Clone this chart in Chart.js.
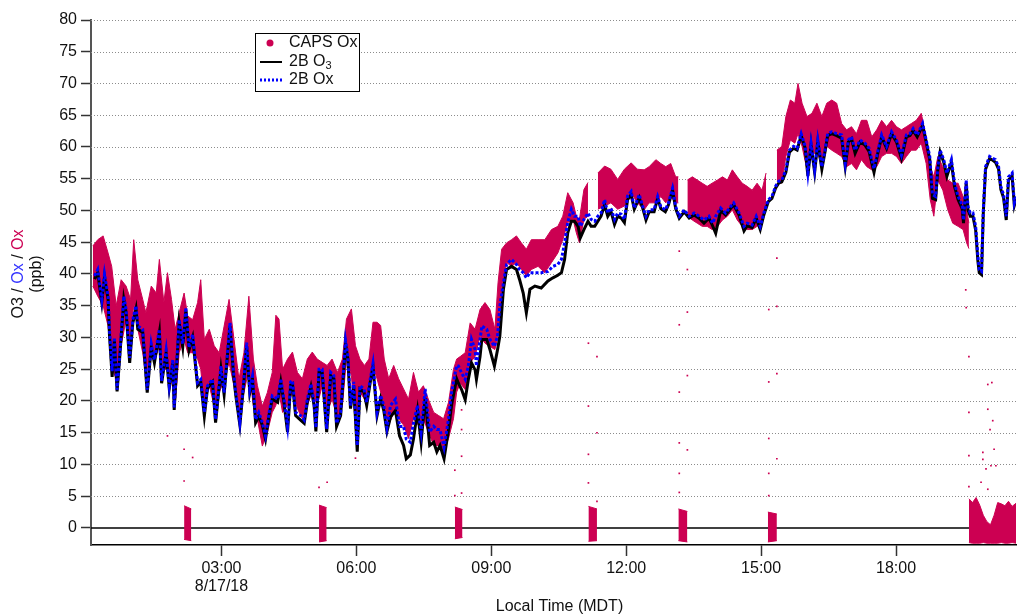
<!DOCTYPE html>
<html>
<head>
<meta charset="utf-8">
<script src="https://cdn.jsdelivr.net/npm/chart.js@4.4.1/dist/chart.umd.min.js"></script>
<style>
  body { margin: 0; background: #fff; }
  canvas { display: block; }
</style>
</head>
<body>
<canvas id="chart" width="1020" height="614"></canvas>
<script>
// time is in decimal hours of 8/17/18 (local, MDT)
const hourTicks = [3, 6, 9, 12, 15, 18];
const yTicks = [0, 5, 10, 15, 20, 25, 30, 35, 40, 45, 50, 55, 60, 65, 70, 75, 80];

// 2B monitor, O3 and Ox
const lineT = [
  0.18, 0.25, 0.34, 0.40, 0.48, 0.51, 0.57, 0.62, 0.68, 0.73, 0.83, 0.88, 0.96, 1.03, 1.10, 1.14, 1.25, 1.35, 1.44, 1.51,
  1.62, 1.67, 1.77, 1.84, 1.92, 1.95, 2.06, 2.14, 2.21, 2.28, 2.36, 2.47, 2.54, 2.62, 2.69, 2.80, 2.87, 2.99, 3.06, 3.19,
  3.27, 3.32, 3.41, 3.50, 3.56, 3.63, 3.69, 3.76, 3.83, 3.91, 3.98, 4.06, 4.13,
  4.25, 4.32, 4.39, 4.47, 4.54, 4.58, 4.65, 4.76, 4.84, 4.91, 4.99, 5.06, 5.10, 5.17, 5.24, 5.34, 5.43, 5.50, 5.56, 5.65,
  5.76, 5.81, 5.87, 5.94, 6.02, 6.08, 6.17, 6.23, 6.31, 6.37, 6.46, 6.54, 6.61, 6.68, 6.76, 6.87, 6.96, 7.05, 7.11, 7.20,
  7.27, 7.36, 7.44, 7.53, 7.63, 7.72, 7.79, 7.86, 7.95, 8.05, 8.12, 8.23,
  8.27, 8.34, 8.42, 8.49, 8.56, 8.64, 8.67, 8.75, 8.79, 8.90, 8.97, 9.07, 9.14, 9.19, 9.27, 9.34, 9.45, 9.56, 9.63, 9.71,
  9.78, 9.86, 9.97, 10.11, 10.26, 10.37, 10.48, 10.56, 10.63, 10.70, 10.78, 10.85, 10.93, 10.98, 11.06, 11.15, 11.22, 11.30, 11.37, 11.44,
  11.52, 11.59, 11.66, 11.74, 11.81, 11.89, 11.96, 12.03, 12.11, 12.18, 12.29,
  12.37, 12.44, 12.51, 12.62, 12.70, 12.77, 12.87, 12.94, 13.03, 13.10, 13.18, 13.29, 13.40, 13.51, 13.62, 13.73, 13.84, 13.92, 13.99, 14.10,
  14.21, 14.32, 14.39, 14.51, 14.62, 14.69, 14.80, 14.89, 14.98, 15.06, 15.16, 15.24, 15.32, 15.39, 15.46, 15.55, 15.63, 15.72, 15.80, 15.89,
  15.98, 16.04, 16.11, 16.19, 16.26, 16.35, 16.42, 16.48,
  16.57, 16.68, 16.79, 16.87, 16.94, 17.01, 17.09, 17.20, 17.31, 17.40, 17.51, 17.60, 17.68, 17.79, 17.90, 18.01, 18.12, 18.23, 18.31, 18.38,
  18.47, 18.59, 18.67, 18.75, 18.81, 18.88, 18.93, 18.98, 19.06, 19.13, 19.23, 19.30, 19.38, 19.47, 19.50, 19.56, 19.60, 19.65, 19.71, 19.77,
  19.82, 19.85, 19.90, 19.94, 19.99, 20.08, 20.15, 20.21, 20.28, 20.33, 20.39, 20.45, 20.50, 20.58, 20.63, 20.67
];
const o3_2B = [
  39.2, 40.2, 35.5, 39.5, 36.0, 30.5, 23.8, 29.5, 21.5, 26.0, 36.0, 34.0, 26.0, 32.3, 34.5, 31.3, 30.8, 21.3, 28.5, 26.0,
  30.8, 22.8, 27.5, 22.0, 26.0, 18.6, 32.3, 28.5, 34.2, 28.0, 30.0, 22.4, 23.0, 17.6, 22.0, 23.0, 16.6, 25.0, 21.0, 31.8,
  24.0, 20.8, 16.2, 23.0, 28.7, 21.3, 23.4, 16.6, 17.6, 16.2, 14.0, 17.8, 20.3,
  19.8, 23.0, 19.8, 15.1, 22.5, 22.7, 17.7, 17.0, 16.5, 19.8, 22.2, 19.3, 15.2, 24.5, 24.5, 15.1, 24.0, 23.5, 16.0, 17.7,
  29.0, 26.7, 18.8, 22.5, 12.0, 21.9, 21.4, 19.3, 23.0, 25.4, 17.7, 20.4, 18.5, 15.2, 17.5, 18.5, 14.5, 13.0, 10.9, 11.5,
  14.0, 18.5, 13.5, 20.5, 13.0, 13.5, 12.0, 13.0, 10.9, 15.5, 19.5, 23.5,
  22.8, 21.8, 20.2, 23.4, 26.0, 24.9, 23.4, 27.0, 29.7, 29.7, 28.1, 25.5, 28.1, 30.2, 37.6, 40.7, 41.2, 40.7, 39.1, 37.0,
  33.9, 37.6, 38.1, 37.8, 38.9, 39.4, 39.8, 40.2, 42.3, 46.5, 48.3, 48.3, 47.5, 45.7, 47.0, 48.3, 47.5, 47.5, 48.3, 49.1,
  50.9, 49.1, 49.9, 47.8, 49.1, 48.8, 48.1, 51.7, 52.5, 50.2, 52.0,
  50.3, 48.5, 49.8, 49.8, 51.9, 50.3, 49.8, 50.9, 53.2, 50.3, 48.8, 49.8, 48.8, 49.3, 48.8, 48.0, 48.8, 47.6, 46.4, 50.0,
  49.3, 50.3, 50.9, 49.3, 46.8, 47.6, 47.3, 48.8, 47.0, 49.3, 51.4, 51.9, 53.5, 54.3, 54.5, 56.0, 59.2, 59.8, 59.5, 61.8,
  59.8, 55.4, 60.3, 56.0, 60.8, 56.5, 59.2, 61.8,
  62.1, 61.8, 61.4, 56.9, 60.8, 61.3, 59.0, 60.8, 60.3, 59.3, 56.0, 59.2, 61.6, 59.8, 62.1, 60.8, 58.2, 61.6, 61.8, 62.6,
  61.6, 63.4, 60.8, 58.0, 51.9, 51.7, 56.5, 59.2, 57.6, 55.4, 57.6, 53.8, 51.7, 50.3, 48.0, 54.3, 50.1, 49.1, 49.1, 46.9,
  42.0, 40.2, 39.9, 49.6, 56.5, 58.2, 57.9, 57.6, 56.5, 53.3, 52.0, 48.5, 54.8, 55.5, 50.8, 51.8
];
const ox_2B = [
  39.7, 40.7, 36.0, 40.0, 36.5, 31.3, 24.7, 30.0, 21.8, 26.5, 36.5, 34.4, 26.8, 32.8, 35.0, 31.8, 31.3, 21.8, 29.0, 26.5,
  31.3, 23.2, 28.0, 22.4, 26.5, 19.0, 32.8, 29.0, 34.7, 28.4, 30.5, 22.9, 23.4, 18.2, 22.4, 23.4, 17.1, 25.5, 21.3, 32.3,
  24.5, 21.3, 16.6, 23.4, 29.2, 21.8, 23.9, 17.1, 18.2, 16.6, 14.5, 18.2, 20.8,
  20.3, 23.5, 20.3, 16.0, 23.0, 23.2, 18.2, 17.7, 17.0, 20.3, 22.7, 19.8, 15.8, 25.0, 25.0, 15.6, 24.5, 24.0, 16.5, 18.2,
  29.5, 27.2, 19.3, 23.0, 13.0, 22.4, 21.9, 19.8, 23.5, 25.9, 18.2, 20.9, 19.3, 15.8, 19.3, 20.3, 16.0, 16.0, 14.0, 13.5,
  16.5, 19.3, 15.1, 21.9, 15.1, 16.0, 15.5, 15.5, 12.7, 17.2, 21.4, 25.6,
  25.5, 24.4, 23.4, 25.5, 29.7, 28.1, 25.5, 29.7, 31.8, 31.3, 29.7, 28.6, 30.2, 34.9, 38.6, 41.5, 42.3, 41.5, 40.7, 40.2,
  39.4, 40.2, 40.2, 40.2, 40.4, 41.2, 41.5, 42.3, 44.9, 48.1, 50.2, 49.1, 49.1, 47.5, 48.6, 49.6, 48.6, 48.3, 49.1, 49.6,
  51.7, 49.6, 50.4, 48.6, 49.6, 49.4, 48.6, 52.3, 53.0, 50.4, 52.5,
  50.6, 49.1, 50.1, 50.1, 52.2, 50.6, 50.1, 51.2, 53.5, 50.6, 49.1, 50.1, 49.1, 49.6, 49.1, 48.5, 49.1, 48.0, 49.1, 50.4,
  49.6, 50.6, 51.2, 49.6, 47.5, 48.0, 47.7, 49.1, 47.5, 49.6, 51.7, 52.2, 53.8, 54.6, 54.8, 56.4, 59.5, 60.1, 59.8, 62.1,
  60.1, 55.9, 60.6, 56.4, 61.1, 56.9, 59.5, 62.1,
  62.4, 62.1, 61.9, 57.4, 61.1, 61.6, 59.5, 61.1, 60.6, 59.8, 56.6, 59.5, 61.9, 60.1, 62.4, 61.1, 58.7, 61.9, 62.1, 62.9,
  61.9, 63.7, 61.1, 58.5, 52.5, 52.2, 56.9, 59.5, 58.0, 55.9, 58.0, 54.3, 52.2, 50.9, 48.5, 54.8, 50.6, 49.6, 49.6, 47.5,
  42.8, 40.7, 40.4, 50.1, 56.9, 58.5, 58.2, 58.0, 56.9, 53.8, 52.5, 49.1, 55.3, 55.9, 51.2, 52.2
];

// CAPS Ox: upper / lower edge of the dense scatter (null = zeroing gap)
const capsT = [
  0.14, 0.25, 0.37, 0.48, 0.56, 0.66, 0.77, 0.88, 0.98, 1.05, 1.14, 1.25, 1.32, 1.44, 1.55, 1.62, 1.72, 1.80, 1.89, 1.97,
  2.06, 2.17, 2.25, 2.36, 2.47, 2.54, 2.62, 2.73, 2.84, 2.95, 3.06, 3.17, 3.28, 3.39, 3.50, 3.61, 3.71, 3.80, 3.91, 4.02, 4.13,
  4.21, 4.28, 4.36, 4.47, 4.58, 4.69, 4.80, 4.91, 5.02, 5.13, 5.24, 5.35, 5.46, 5.58, 5.69, 5.78, 5.89, 5.98, 6.08, 6.18,
  6.28, 6.37, 6.46, 6.54, 6.62, 6.72, 6.83, 6.94, 7.05, 7.16, 7.27, 7.38, 7.49, 7.60, 7.72, 7.83, 7.94, 8.05, 8.16, 8.23,
  8.31, 8.42, 8.53, 8.64, 8.75, 8.86, 8.97, 9.08, 9.15, 9.23, 9.34, 9.45, 9.56, 9.67, 9.78, 9.89, 10.04, 10.19, 10.34, 10.48,
  10.59, 10.70, 10.82, 10.89, 10.96, 11.06, 11.15, 11.25, 11.37, 11.52, 11.66, 11.81, 11.96, 12.11, 12.25,
  12.40, 12.51, 12.66, 12.77, 12.88, 12.99, 13.10, 13.16, 13.26, 13.36, 13.47, 13.58, 13.69, 13.80, 13.91, 14.03, 14.14, 14.25, 14.36, 14.47,
  14.58, 14.69, 14.80, 14.91, 15.02, 15.11, 15.23, 15.35, 15.46, 15.55, 15.65, 15.75, 15.82, 15.91, 16.02, 16.13, 16.24, 16.35, 16.46,
  16.57, 16.68, 16.79, 16.90, 17.01, 17.12, 17.23, 17.35, 17.46, 17.57, 17.68, 17.79, 17.90, 18.01, 18.12, 18.23, 18.34, 18.45, 18.56, 18.67,
  18.76, 18.84, 18.93, 19.04, 19.15, 19.26, 19.38, 19.49, 19.57, 19.62
];
const capsHi = [
  44.4, 45.4, 46.0, 43.3, 41.2, 35.0, 39.1, 38.1, 36.0, 45.4, 39.1, 36.0, 33.9, 38.1, 37.0, 42.3, 35.5, 40.2, 36.0, 31.3,
  33.9, 37.0, 33.4, 32.8, 35.5, 39.1, 29.7, 31.3, 28.7, 27.6, 31.8, 36.0, 29.7, 23.4, 27.6, 36.5, 26.6, 22.4, 19.2, 21.3, 24.5,
  33.5, 32.9, 25.0, 26.6, 27.7, 24.5, 23.5, 26.6, 27.7, 26.6, 26.1, 25.6, 26.6, 24.5, 26.6, 32.9, 34.5, 28.7, 26.6, 25.6,
  26.6, 32.4, 32.4, 31.9, 26.6, 23.5, 25.6, 23.5, 21.9, 20.3, 24.5, 21.4, 22.4, 20.3, 18.2, 17.7, 17.2, 19.8, 25.0, 26.6,
  27.0, 27.6, 32.3, 31.3, 34.4, 35.5, 34.4, 31.3, 38.6, 43.9, 44.9, 45.4, 46.0, 44.9, 43.9, 45.4, 45.4, 45.4, 47.0, 47.5,
  49.1, 52.8, 51.2, 49.1, 48.6, 53.3, 54.4, null, 55.9, 57.0, 56.5, 54.9, 56.5, 57.5, 56.5,
  56.4, 56.9, 58.0, 57.4, 56.9, 57.4, 55.3, 55.3, null, 54.8, 55.3, 54.8, 54.3, 53.8, 54.3, 54.8, 55.3, 54.8, 56.4, 55.3,
  54.3, 53.8, 53.2, 54.3, 53.2, 55.9, null, 59.5, 60.1, 64.8, 67.4, 66.9, 70.0, 66.9, 64.8, 65.3, 66.9, 64.8, 66.9,
  67.4, 66.9, 63.7, 62.7, 63.2, 62.1, 64.2, 64.2, 61.6, 62.7, 64.2, 63.2, 64.2, 63.2, 62.7, 63.2, 63.7, 64.2, 65.3, 61.6,
  56.9, 55.3, 58.5, 56.9, 54.8, 54.3, 54.3, 52.2, 50.1, 48.0
];
const capsLo = [
  38.1, 36.5, 35.0, 31.8, 25.5, 23.4, 28.7, 32.8, 28.1, 35.5, 31.3, 27.6, 23.9, 28.7, 27.1, 28.7, 25.0, 25.0, 23.4, 19.2,
  27.6, 29.7, 27.6, 27.6, 26.6, 25.0, 19.2, 22.4, 19.2, 21.3, 23.4, 26.0, 22.4, 17.1, 21.3, 25.0, 19.2, 17.1, 12.9, 15.0, 18.2,
  19.3, 21.4, 18.2, 19.3, 21.4, 18.8, 17.2, 19.3, 21.4, 19.3, 22.4, 18.2, 20.3, 17.2, 19.3, 26.6, 24.0, 16.2, 21.4, 20.3,
  22.4, 25.6, 23.5, 21.4, 19.3, 16.2, 18.2, 17.2, 16.2, 14.1, 17.2, 16.2, 17.2, 15.1, 13.0, 13.0, 12.0, 14.1, 17.2, 21.4,
  22.8, 21.8, 26.0, 27.0, 30.2, 29.1, 28.6, 28.1, 30.2, 37.6, 41.8, 41.2, 41.8, 40.7, 39.7, 40.7, 41.2, 40.2, 41.8, 43.3,
  45.4, 48.1, 48.6, 46.5, 44.9, 48.6, 49.1, null, 50.2, 50.7, 51.2, 50.2, 50.7, 52.8, 51.2,
  50.1, 51.2, 51.2, 52.2, 51.2, 52.2, 51.2, 51.2, null, 49.1, 48.5, 48.0, 47.5, 47.5, 47.0, 47.5, 48.5, 49.1, 50.1, 48.5,
  47.5, 47.0, 47.0, 47.5, 48.0, 51.2, null, 54.8, 54.3, 58.5, 61.1, 60.6, 62.1, 60.1, 56.4, 58.5, 59.5, 56.9, 60.1,
  59.5, 59.0, 58.5, 56.9, 57.4, 56.4, 58.0, 56.9, 56.4, 56.9, 58.5, 59.0, 59.0, 58.5, 57.4, 58.5, 59.5, 59.5, 60.6, 57.4,
  51.7, 49.1, 54.8, 53.2, 50.1, 48.0, 47.5, 47.0, 44.9, 44.0
];

// CAPS Ox during zeroing periods
const zeroT = [2.17, 2.33, 3.5, 5.17, 5.34, 6.5, 8.19, 8.36, 9.5, 11.16, 11.35, 12.0, 13.16, 13.36, 14.0, 15.15, 15.35, 16.0,
  19.62, 19.70, 19.78, 19.86, 19.94, 20.02, 20.10, 20.18, 20.26, 20.34, 20.42, 20.50, 20.58, 20.67];
const zeroHi = [3.5, 3.0, null, 3.6, 3.2, null, 3.3, 2.9, null, 3.4, 3.0, null, 3.0, 2.6, null, 2.5, 2.2, null,
  4.6, 4.0, 4.8, 3.6, 2.0, 1.0, 0.5, 2.0, 4.0, 3.8, 3.5, 4.2, 3.4, 3.9];
const zeroLo = [-1.8, -2.0, null, -2.2, -2.0, null, -1.7, -1.5, null, -2.1, -2.0, null, -2.0, -2.2, null, -2.2, -2.0, null,
  -2.3, -2.4, -2.4, -2.4, -2.3, -2.4, -2.4, -2.4, -2.4, -2.3, -2.4, -2.4, -2.3, -2.4];

// sparse CAPS points away from the main band
const outT = [2.17, 2.17, 2.36, 1.80, 5.17, 5.35, 5.98, 8.19, 8.19, 8.34, 8.34, 8.34, 8.34, 11.16, 11.35, 11.16, 11.35, 11.16, 11.16, 11.35,
  13.18, 13.36, 13.18, 13.36, 13.18, 13.36, 13.18, 13.36, 13.18, 13.18, 15.17, 15.35, 15.17, 15.35, 15.17, 15.35, 15.17, 15.17, 15.35,
  19.55, 19.56, 19.62, 19.62, 19.62, 19.62, 20.04, 20.13, 20.04, 20.09, 20.15, 19.93, 19.93, 20.11, 20.18, 19.89, 20.04, 20.22, 20.00];
const outV = [12.4, 7.4, 11.1, 14.5, 6.4, 7.2, 11.0, 9.1, 5.1, 18.6, 15.5, 11.3, 5.5, 29.1, 27.0, 19.2, 15.0, 11.6, 7.1, 4.2,
  43.6, 40.7, 32.0, 34.0, 21.4, 24.0, 13.4, 12.3, 8.6, 5.6, 34.4, 34.9, 23.0, 24.3, 14.1, 10.9, 8.6, 5.1, 42.5,
  37.5, 34.7, 27.0, 18.2, 11.4, 6.5, 22.6, 22.9, 18.7, 15.5, 16.9, 11.9, 10.8, 9.8, 12.4, 7.2, 6.1, 9.8, 9.3];

const FONT = "'Liberation Sans', Arial, Helvetica, sans-serif";
const CAPS_COLOR = 'rgb(204, 0, 82)';
const BLUE = '#0000ff';

const pts = (xs, ys) => xs.map((x, i) => ({ x: x, y: ys[i] }));

const overlay = {
  id: 'overlay',
  beforeDatasetsDraw(chart) {
    const ctx = chart.ctx;
    const a = chart.chartArea;
    const yAxis = chart.scales['y'];
    ctx.save();
    ctx.lineWidth = 1;
    ctx.strokeStyle = '#8c8c8c';
    ctx.setLineDash([1, 2]);
    yTicks.forEach(v => {
      if (v === 0) return;
      const py = Math.round(yAxis.getPixelForValue(v)) + 0.5;
      ctx.beginPath();
      ctx.moveTo(a.left, py);
      ctx.lineTo(a.right, py);
      ctx.stroke();
    });
    ctx.setLineDash([]);
    ctx.strokeStyle = '#000';
    ctx.lineWidth = 1.5;
    const y0 = yAxis.getPixelForValue(0);
    ctx.beginPath();
    ctx.moveTo(a.left, y0);
    ctx.lineTo(a.right, y0);
    ctx.stroke();
    ctx.restore();
  },
  afterDraw(chart) {
    const ctx = chart.ctx;
    const a = chart.chartArea;
    const yAxis = chart.scales['y'];
    ctx.save();

    // legend box
    ctx.fillStyle = '#fff';
    ctx.fillRect(255, 33, 105, 59);
    ctx.strokeStyle = '#000';
    ctx.lineWidth = 1;
    ctx.strokeRect(255.5, 33.5, 104, 58);
    ctx.font = '16px ' + FONT;
    ctx.textBaseline = 'middle';
    ctx.fillStyle = '#111';
    ctx.fillText('CAPS Ox', 289, 43);
    ctx.fillText('2B O', 289, 62);
    const w = ctx.measureText('2B O').width;
    ctx.font = '11px ' + FONT;
    ctx.fillText('3', 289 + w, 66);
    ctx.font = '16px ' + FONT;
    ctx.fillText('2B Ox', 289, 80);
    ctx.fillStyle = CAPS_COLOR;
    ctx.beginPath();
    ctx.arc(270, 43, 3.5, 0, Math.PI * 2);
    ctx.fill();
    ctx.strokeStyle = '#000';
    ctx.lineWidth = 2;
    ctx.beginPath();
    ctx.moveTo(260, 62);
    ctx.lineTo(282, 62);
    ctx.stroke();
    ctx.strokeStyle = BLUE;
    ctx.lineWidth = 3;
    ctx.setLineDash([2, 2]);
    ctx.beginPath();
    ctx.moveTo(260, 80);
    ctx.lineTo(282, 80);
    ctx.stroke();
    ctx.setLineDash([]);

    // y axis title, coloured parts, centred on 40 ppb
    const parts = [['O3 / ', '#111'], ['Ox', '#3333ff'], [' / ', '#111'], ['Ox', CAPS_COLOR]];
    ctx.font = '16px ' + FONT;
    const total = parts.reduce((s, p) => s + ctx.measureText(p[0]).width, 0);
    ctx.translate(19, yAxis.getPixelForValue(40));
    ctx.rotate(-Math.PI / 2);
    ctx.textAlign = 'left';
    let x = -total / 2;
    parts.forEach(p => {
      ctx.fillStyle = p[1];
      ctx.fillText(p[0], x, 0);
      x += ctx.measureText(p[0]).width;
    });
    ctx.fillStyle = '#111';
    ctx.textAlign = 'center';
    ctx.fillText('(ppb)', 0, 18);
    ctx.setTransform(1, 0, 0, 1, 0, 0);

    // x axis title, cut by the bottom edge like the original
    ctx.textAlign = 'center';
    ctx.textBaseline = 'alphabetic';
    ctx.fillStyle = '#111';
    ctx.fillText('Local Time (MDT)', (a.left + a.right) / 2 + 6, 611);
    ctx.restore();
  }
};

new Chart(document.getElementById('chart'), {
  type: 'line',
  plugins: [overlay],
  data: {
    datasets: [
      {
        label: '2B Ox',
        data: pts(lineT, ox_2B),
        borderColor: BLUE,
        borderWidth: 3,
        borderDash: [3, 2],
        pointRadius: 0,
        tension: 0,
        fill: false
      },
      {
        label: '2B O3',
        data: pts(lineT, o3_2B),
        borderColor: '#000',
        borderWidth: 3,
        pointRadius: 0,
        tension: 0,
        fill: false
      },
      {
        label: 'CAPS Ox outliers',
        data: pts(outT, outV),
        showLine: false,
        pointStyle: 'rect',
        pointRadius: 1.2,
        pointBorderWidth: 0,
        pointBackgroundColor: CAPS_COLOR
      },
      {
        label: 'CAPS Ox',
        data: pts(capsT, capsHi),
        borderColor: CAPS_COLOR,
        backgroundColor: CAPS_COLOR,
        borderWidth: 1,
        pointRadius: 0,
        tension: 0,
        spanGaps: false,
        fill: '+1'
      },
      {
        label: 'CAPS Ox low',
        data: pts(capsT, capsLo),
        borderColor: CAPS_COLOR,
        borderWidth: 1,
        pointRadius: 0,
        tension: 0,
        spanGaps: false,
        fill: false
      },
      {
        label: 'CAPS zero',
        data: pts(zeroT, zeroHi),
        borderColor: CAPS_COLOR,
        backgroundColor: CAPS_COLOR,
        borderWidth: 1,
        pointRadius: 0,
        tension: 0,
        spanGaps: false,
        fill: '+1'
      },
      {
        label: 'CAPS zero low',
        data: pts(zeroT, zeroLo),
        borderColor: CAPS_COLOR,
        borderWidth: 1,
        pointRadius: 0,
        tension: 0,
        spanGaps: false,
        fill: false
      }
    ]
  },
  options: {
    responsive: false,
    animation: false,
    layout: { padding: { top: 20, left: 0, right: 0, bottom: 0 } },
    plugins: {
      legend: { display: false },
      tooltip: { enabled: false }
    },
    scales: {
      x: {
        type: 'linear',
        min: 0.1,
        max: 20.667,
        afterBuildTicks: scale => { scale.ticks = hourTicks.map(v => ({ value: v })); },
        afterFit: scale => { scale.height = 69; },
        grid: { drawOnChartArea: false, drawTicks: true, tickLength: 11, tickColor: '#333', tickWidth: 1.5 },
        border: { display: true, color: '#000', width: 1.5 },
        ticks: {
          autoSkip: false,
          maxRotation: 0,
          padding: 3,
          color: '#111',
          font: { family: FONT, size: 16, lineHeight: 1.15 },
          callback: v => {
            const s = String(v).padStart(2, '0') + ':00';
            return v === 3 ? [s, '8/17/18'] : s;
          }
        }
      },
      y: {
        min: -2.68,
        max: 80,
        afterBuildTicks: scale => { scale.ticks = yTicks.map(v => ({ value: v })); },
        afterFit: scale => { scale.width = 91; },
        grid: { drawOnChartArea: false, drawTicks: true, tickLength: 10, tickColor: '#333', tickWidth: 1.5 },
        border: { display: true, color: '#555', width: 2 },
        ticks: {
          padding: 4,
          color: '#111',
          font: { family: FONT, size: 16 }
        }
      }
    }
  }
});
</script>
</body>
</html>
